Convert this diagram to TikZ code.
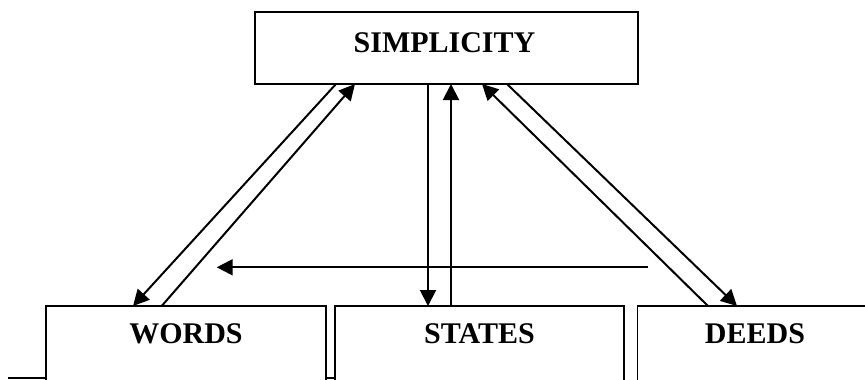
\documentclass[tikz,border=0pt]{standalone}
\usepackage{fontspec}
\setmainfont{Liberation Serif}
\usetikzlibrary{arrows.meta}
\tikzset{
  boxnode/.style={draw=black, line width=1.6pt, fill=white, inner sep=0pt, outer sep=0pt},
  labeltext/.style={anchor=base, inner sep=0pt, font=\fontsize{30}{35}\selectfont\bfseries},
  conn/.style={line width=2pt, -{Triangle[length=16pt,width=16pt]}},
  plainline/.style={line width=2pt}
}
\begin{document}
\begin{tikzpicture}[x=1pt,y=-1pt]
\useasboundingbox (0,0) rectangle (865,380);
\fill[white] (0,0) rectangle (865,380);
% underline behind the lower boxes
\coordinate (ulA) at (8,377.5);
\coordinate (ulB) at (335,377.5);
\draw[plainline] (ulA) -- (ulB);
% boxes
\node[boxnode, minimum width=383pt, minimum height=72pt] (simp) at (446.5,48) {};
\node[boxnode, minimum width=280pt, minimum height=140pt] (words) at (185.7,376) {};
\node[boxnode, minimum width=289pt, minimum height=140pt] (states) at (479.5,376) {};
\node[boxnode, minimum width=236pt, minimum height=140pt] (deeds) at (755.3,376) {};
% texts
\node[labeltext] (tsimp) at (444.5,52.5) {SIMPLICITY};
\node[labeltext] (twords) at (186,343) {WORDS};
\node[labeltext] (tstates) at (479.5,343) {STATES};
\node[labeltext] (tdeeds) at (755,343) {DEEDS};
% left pair
\draw[conn] ([xshift=81pt]simp.south west) -- ([xshift=87.3pt]words.north west);
\draw[conn] ([xshift=116pt]words.north west) -- ([xshift=100pt]simp.south west);
% middle pair
\draw[conn] ([xshift=173pt]simp.south west) -- ([xshift=93pt]states.north west);
\draw[conn] ([xshift=116pt]states.north west) -- ([xshift=196pt]simp.south west);
% right pair
\draw[conn] ([xshift=70.7pt]deeds.north west) -- ([xshift=227pt]simp.south west);
\draw[conn] ([xshift=252pt]simp.south west) -- ([xshift=99.7pt]deeds.north west);
% horizontal arrow
\coordinate (hA) at (648,267.3);
\coordinate (hB) at (216.7,267.3);
\draw[conn] (hA) -- (hB);
\end{tikzpicture}
\end{document}
